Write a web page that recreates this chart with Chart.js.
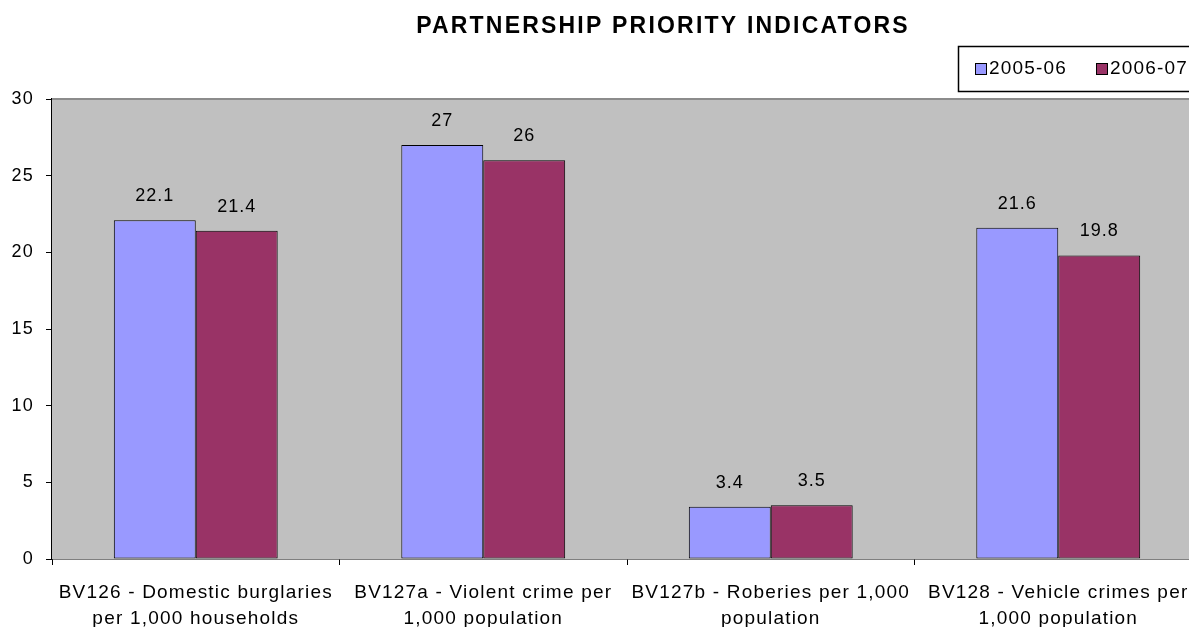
<!DOCTYPE html>
<html>
<head>
<meta charset="utf-8">
<script src="https://cdn.jsdelivr.net/npm/chart.js@4.4.1/dist/chart.umd.min.js"></script>
<style>
html,body{margin:0;padding:0;background:#fff;overflow:hidden;}
#wrap{width:1322px;height:627px;position:relative;}
</style>
</head>
<body>
<div id="wrap"><canvas id="c" width="1322" height="627"></canvas></div>
<script>
const title = "PARTNERSHIP PRIORITY INDICATORS";
const categories = [
  ["BV126 - Domestic burglaries", "per 1,000 households"],
  ["BV127a - Violent crime per", "1,000 population"],
  ["BV127b - Roberies per 1,000", "population"],
  ["BV128 - Vehicle crimes per", "1,000 population"]
];
const seriesNames = ["2005-06", "2006-07"];
const values2005 = [22.1, 27, 3.4, 21.6];
const values2006 = [21.4, 26, 3.5, 19.8];
const yTicks = [0, 5, 10, 15, 20, 25, 30];

const FONT = "'Liberation Sans', Arial, sans-serif";
const SPACING = '1.2px';

const spacingPlugin = {
  id: 'spacing',
  beforeLayout(chart){ chart.ctx.letterSpacing = SPACING; },
  beforeDraw(chart){ chart.ctx.letterSpacing = SPACING; }
};

const decorPlugin = {
  id: 'decor',
  beforeDatasetsDraw(chart){
    const ctx = chart.ctx, a = chart.chartArea;
    ctx.save();
    ctx.fillStyle = '#C0C0C0';
    ctx.fillRect(a.left, a.top, a.right - a.left, a.bottom - a.top);
    ctx.strokeStyle = '#8c8c8c';
    ctx.lineWidth = 2;
    ctx.beginPath();
    ctx.moveTo(a.left, a.top);
    ctx.lineTo(a.right, a.top);
    ctx.stroke();
    ctx.restore();
  },
  afterDatasetsDraw(chart){
    const ctx = chart.ctx;
    ctx.save();
    ctx.letterSpacing = '1px';
    ctx.fillStyle = '#000';
    ctx.font = '18px ' + FONT;
    ctx.textAlign = 'center';
    ctx.textBaseline = 'middle';
    chart.data.datasets.forEach((ds, i) => {
      const meta = chart.getDatasetMeta(i);
      meta.data.forEach((bar, j) => {
        ctx.fillText(String(ds.data[j]), bar.x, bar.y - 24);
      });
    });
    // title
    ctx.font = 'bold 23px ' + FONT;
    ctx.letterSpacing = '2.2px';
    ctx.fillText(title, 663, 27);
    // legend
    ctx.letterSpacing = '1.2px';
    const lx = 958, ly = 46, lw = 260, lh = 45;
    ctx.fillStyle = '#fff';
    ctx.fillRect(lx, ly, lw, lh);
    ctx.strokeStyle = '#000';
    ctx.lineWidth = 1.5;
    ctx.strokeRect(lx + 0.5, ly + 0.5, lw, lh);
    ctx.textAlign = 'left';
    ctx.font = '19px ' + FONT;
    chart.data.datasets.forEach((ds, i) => {
      const sx = lx + 17 + i * 121;
      const sy = ly + 17;
      ctx.fillStyle = ds.backgroundColor;
      ctx.fillRect(sx, sy, 11, 11);
      ctx.strokeStyle = '#000';
      ctx.lineWidth = 1;
      ctx.strokeRect(sx + 0.5, sy + 0.5, 11, 11);
      ctx.fillStyle = '#000';
      ctx.fillText(ds.label, sx + 14, sy + 6);
    });
    ctx.restore();
  }
};

new Chart(document.getElementById('c'), {
  type: 'bar',
  data: {
    labels: categories,
    datasets: [
      { label: seriesNames[0], data: values2005, backgroundColor: '#9999FF', borderColor: '#000', borderWidth: 1, borderSkipped: false },
      { label: seriesNames[1], data: values2006, backgroundColor: '#993366', borderColor: '#000', borderWidth: 1, borderSkipped: false }
    ]
  },
  options: {
    responsive: false,
    animation: false,
    layout: { padding: { top: 99, right: 120, left: 0, bottom: 0 } },
    datasets: { bar: { barPercentage: 1.0, categoryPercentage: 0.57 } },
    plugins: { legend: { display: false }, title: { display: false }, tooltip: { enabled: false } },
    scales: {
      x: {
        offset: true,
        grid: { display: true, offset: true, drawOnChartArea: false, drawTicks: true, tickLength: 6, color: '#000', lineWidth: 1 },
        border: { display: true, color: '#000', width: 1.5 },
        ticks: { color: '#000', font: { family: FONT, size: 19, lineHeight: 1.4 }, padding: 14, maxRotation: 0, autoSkip: false },
        afterFit(scale){ scale.height = 68; }
      },
      y: {
        min: 0, max: 30,
        afterBuildTicks(scale){ scale.ticks = yTicks.map(v => ({ value: v })); },
        grid: { display: true, drawOnChartArea: false, drawTicks: true, tickLength: 6, color: '#000', lineWidth: 1 },
        border: { display: true, color: '#000', width: 1.5 },
        ticks: { color: '#000', font: { family: FONT, size: 18 }, padding: 12 },
        afterFit(scale){ scale.width = 52; }
      }
    }
  },
  plugins: [spacingPlugin, decorPlugin]
});
</script>
</body>
</html>
